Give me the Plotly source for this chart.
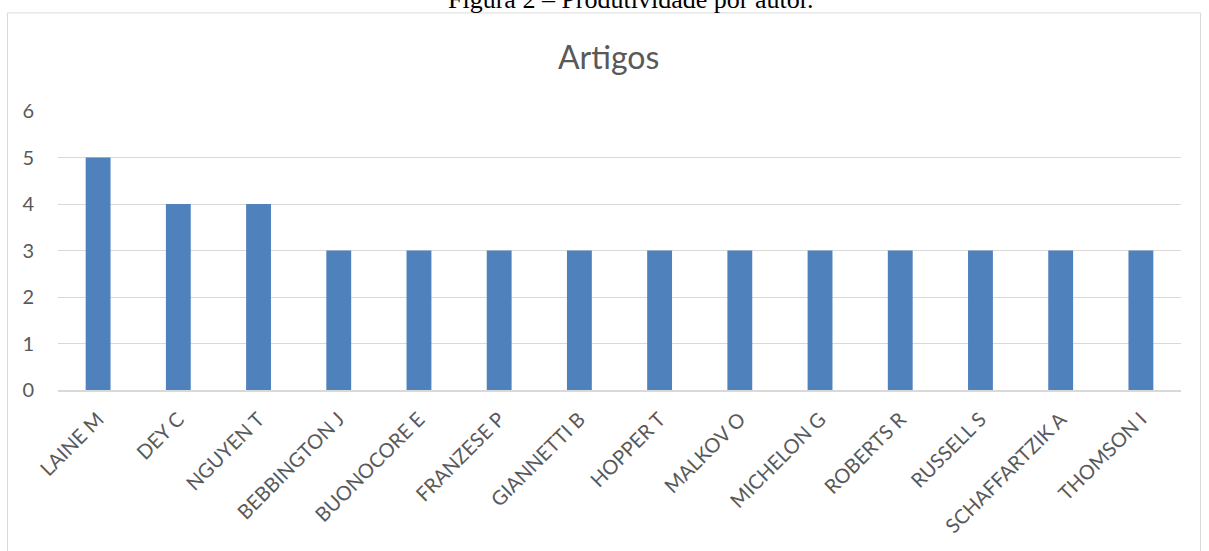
import plotly.graph_objects as go

authors = ["LAINE M", "DEY C", "NGUYEN T", "BEBBINGTON J", "BUONOCORE E", "FRANZESE P",
           "GIANNETTI B", "HOPPER T", "MALKOV O", "MICHELON G", "ROBERTS R", "RUSSELL S",
           "SCHAFFARTZIK A", "THOMSON I"]
artigos = [5, 4, 4, 3, 3, 3, 3, 3, 3, 3, 3, 3, 3, 3]
y_ticks = [0, 1, 2, 3, 4, 5, 6]

W, H = 1209, 551
L, R, T, B = 58, 1181, 110.7, 390
pw, ph = R - L, B - T

def px_x(x):
    return (x - L) / pw

def px_y(y):
    return (B - y) / ph

FONT = "Lato"

fig = go.Figure(go.Bar(x=authors, y=artigos, marker_color="#4F81BD",
                       marker_line_width=0, hoverinfo="x+y"))

fig.update_layout(
    width=W, height=H,
    margin=dict(l=L, r=W - R, t=T, b=H - B, pad=0),
    paper_bgcolor="white", plot_bgcolor="white",
    bargap=0.69,
    showlegend=False,
    font=dict(family=FONT, color="#595959"),
    shapes=[dict(type="rect", xref="paper", yref="paper",
                 x0=px_x(7.5), x1=px_x(1200.5), y0=px_y(560), y1=px_y(12.5),
                 line=dict(color="#d9d9d9", width=1), layer="below")],
    annotations=[
        dict(text="Artigos", xref="paper", yref="paper", x=px_x(608), y=px_y(56),
             xanchor="center", yanchor="middle", showarrow=False,
             font=dict(family=FONT, size=32, color="#595959")),
        dict(text="Figura 2 – Produtividade por autor.", xref="paper", yref="paper",
             x=px_x(630), y=px_y(-1), xanchor="center", yanchor="middle", showarrow=False,
             font=dict(family="Liberation Serif", size=26, color="black")),
    ],
)

fig.update_yaxes(range=[0, 6], tickvals=y_ticks, showgrid=True, gridcolor="#d9d9d9",
                 gridwidth=1, zeroline=False, showline=False,
                 tickfont=dict(family=FONT, size=20, color="#595959"),
                 ticklabelstandoff=23)
fig.update_xaxes(tickangle=-45, showline=True, linecolor="#d9d9d9", linewidth=1.5,
                 showgrid=False, tickfont=dict(family=FONT, size=20, color="#595959"),
                 ticklabelstandoff=8)

fig.write_html("out.html")
